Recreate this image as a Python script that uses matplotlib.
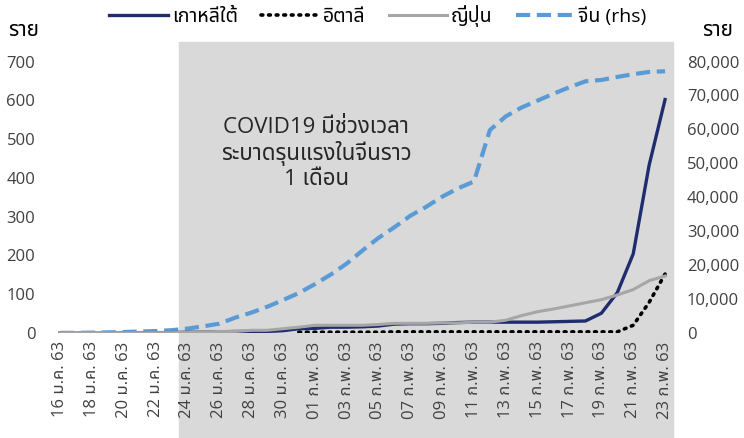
import matplotlib
matplotlib.use("Agg")
import matplotlib.pyplot as plt
import matplotlib.transforms as mtransforms
from matplotlib import font_manager
from matplotlib.ft2font import FT2Font
from matplotlib.ticker import FuncFormatter
import numpy as np

# find a font that has Thai glyphs
def find_thai_font():
    names = []
    for f in font_manager.fontManager.ttflist:
        try:
            if 0x0E01 in FT2Font(f.fname).get_charmap():
                names.append(f.name)
        except Exception:
            pass
    for pref in ["Noto Sans Thai", "Tahoma", "Loma", "Garuda", "Noto Sans Thai UI", "DejaVu Sans"]:
        if pref in names:
            return pref
    return names[0] if names else "DejaVu Sans"

thai = find_thai_font()
plt.rcParams['font.family'] = ['Open Sans', thai, 'DejaVu Sans']

# dates 16 Jan 2020 (ม.ค. 63) .. 23 Feb 2020 (ก.พ. 63)
dates = [f"{d:02d} ม.ค. 63" for d in range(16, 32)] + [f"{d:02d} ก.พ. 63" for d in range(1, 24)]

korea = [0, 0, 0, 0, 1, 1, 1, 1, 2, 2, 3, 4, 4, 4, 6, 11,
         12, 15, 15, 16, 18, 23, 24, 24, 25, 27, 28, 28, 28, 28, 28, 29, 30, 31, 51, 104, 204, 433, 602]
italy = [np.nan] * 15 + [2,
         2, 2, 2, 2, 2, 3, 3, 3, 3, 3, 3, 3, 3, 3, 3, 3, 3, 3, 3, 3, 20, 79, 152]
japan = [1, 1, 1, 1, 1, 1, 1, 1, 2, 2, 4, 4, 7, 7, 11, 15,
         20, 20, 20, 20, 22, 25, 25, 25, 26, 26, 28, 28, 33, 45, 55, 62, 70, 78, 86, 98, 112, 135, 147]
china = [45, 62, 121, 198, 291, 440, 571, 830, 1287, 1975, 2744, 4515, 5974, 7711, 9692, 11791,
         14380, 17205, 20438, 24324, 28018, 31161, 34546, 37198, 40171, 42638, 44653, 59804, 63851,
         66492, 68500, 70548, 72436, 74185, 74576, 75465, 76288, 76936, 77150]

labels = ["เกาหลีใต้", "อิตาลี", "ญี่ปุ่น", "จีน (rhs)"]
shade_start = 8  # 24 ม.ค. 63
note = "COVID19 มีช่วงเวลา\nระบาดรุนแรงในจีนราว\n1 เดือน"

x = np.arange(len(dates))

fig = plt.figure(figsize=(7.44, 4.38), dpi=100)
ax = fig.add_axes([0.0699, 0.2397, 0.8347, 0.664])
ax2 = ax.twinx()
# left-axis lines on top, china line + shading on the lower axes
ax.set_zorder(ax2.get_zorder() + 1)
ax.patch.set_visible(False)

# grey period shading, runs down behind the tick labels
trans = mtransforms.blended_transform_factory(ax2.transData, ax2.transAxes)
rect = plt.Rectangle((shade_start - 0.5, -0.361), len(dates) - shade_start, 1.361,
                     transform=trans, color="#D9D9D9", zorder=0, clip_on=False)
ax2.add_patch(rect)

l1, = ax.plot(x, korea, color="#1F2D6E", lw=2.4, label=labels[0], zorder=3)
l2, = ax.plot(x, italy, color="black", lw=2.6, ls=(0, (0.5, 1.6)), dash_capstyle="round",
              label=labels[1], zorder=3)
l3, = ax.plot(x, japan, color="#A6A6A6", lw=2.2, label=labels[2], zorder=3)
l4, = ax2.plot(x, china, color="#5B9BD5", lw=3, ls=(0, (3.4, 1.6)), label=labels[3], zorder=3)

ax.set_xlim(-0.5, len(dates) - 0.5)
ax.set_ylim(0, 750)
ax.set_yticks(range(0, 701, 100))
ax2.set_ylim(0, 750 * 80000 / 700)
ax2.set_yticks(range(0, 80001, 10000))
ax2.yaxis.set_major_formatter(FuncFormatter(lambda v, p: f"{int(v):,}"))

ax.set_xticks(x[::2])
ax.set_xticklabels(dates[::2], rotation=90, fontsize=12, color="#262626")

for a in (ax, ax2):
    for s in a.spines.values():
        s.set_visible(False)
    a.tick_params(length=0, labelsize=12, labelcolor="#404040")
ax.tick_params(axis="y", pad=12)
ax2.tick_params(axis="y", pad=10)
ax.tick_params(axis="x", pad=6)

fig.text(24 / 744, 1 - 30 / 438, "ราย", fontsize=15, fontweight="bold", ha="center", va="center")
fig.text(718 / 744, 1 - 30 / 438, "ราย", fontsize=15, fontweight="bold", ha="center", va="center")

ax.text(16.1, 556, note, ha="center", va="top", fontsize=16, color="#262626",
        linespacing=1.15, zorder=4)

fig.legend(handles=[l1, l2, l3, l4], loc="center", ncol=4, frameon=False,
           bbox_to_anchor=(378 / 744, 1 - 16 / 438), fontsize=14, handlelength=3.0,
           columnspacing=1.2, handletextpad=0.2)

fig.savefig("out.png", dpi=100)
